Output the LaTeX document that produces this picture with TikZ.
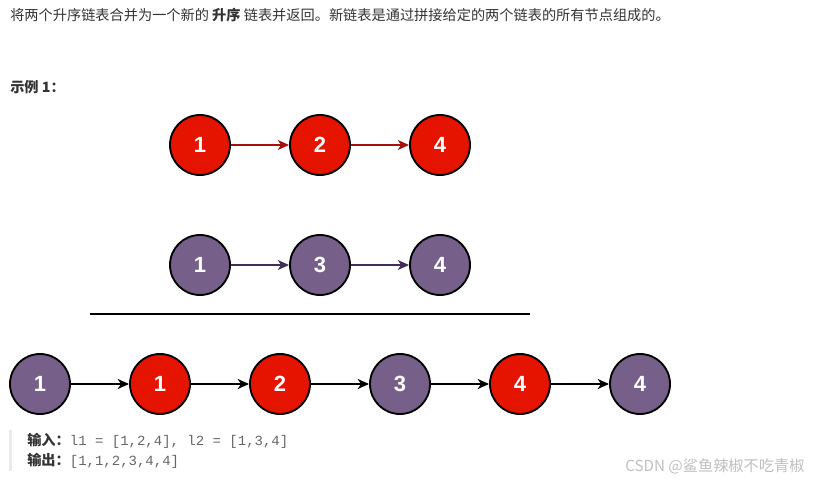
\documentclass[tikz,border=0pt]{standalone}
\usepackage{fontspec}
\setmainfont{Liberation Sans}
\setmonofont{Liberation Mono}
\newfontfamily\cjk{Noto Sans CJK SC}
\usepackage{xcolor}
\usetikzlibrary{arrows.meta}
\definecolor{nodered}{HTML}{E51400}
\definecolor{nodepurple}{HTML}{76608A}
\definecolor{arrowred}{HTML}{A50F0C}
\definecolor{arrowpurple}{HTML}{432D57}
\definecolor{txtdark}{HTML}{333333}
\definecolor{codegray}{HTML}{666666}

\begin{document}
\begin{tikzpicture}[x=0.75pt,y=-0.75pt,
    listnode/.style={circle,draw=black,line width=1.4pt,minimum size=45pt,inner sep=0pt,
      text=white,font=\fontsize{16.5}{16.5}\selectfont\bfseries},
    rednode/.style={listnode,fill=nodered},
    purplenode/.style={listnode,fill=nodepurple},
    link/.style={line width=1.2pt,-{Stealth[length=8.5pt,width=7.5pt,inset=2.5pt]}},
    plain/.style={anchor=west,inner sep=0pt,text=txtdark,font=\cjk\fontsize{10.65}{12}\selectfont}]
    \useasboundingbox (0,0) rectangle (816,481);
    % heading text
    \node[plain] (title) at (10,15) {将两个升序链表合并为一个新的 \textbf{升序} 链表并返回。新链表是通过拼接给定的两个链表的所有节点组成的。};
    \node[plain] (example) at (10,87) {\textbf{示例 1：}};
    % l1
    \node[rednode] (a1) at (200,145) {1};
    \node[rednode] (a2) at (320,145) {2};
    \node[rednode] (a3) at (440,145) {4};
    \draw[link,arrowred] (a1) -- (a2);
    \draw[link,arrowred] (a2) -- (a3);
    % l2
    \node[purplenode] (b1) at (200,265) {1};
    \node[purplenode] (b2) at (320,265) {3};
    \node[purplenode] (b3) at (440,265) {4};
    \draw[link,arrowpurple] (b1) -- (b2);
    \draw[link,arrowpurple] (b2) -- (b3);
    % separator
    \coordinate (sepL) at (90,314);
    \coordinate (sepR) at (530,314);
    \draw[line width=1.4pt] (sepL) -- (sepR);
    % merged list
    \node[purplenode] (c1) at (40,384) {1};
    \node[rednode] (c2) at (160,384) {1};
    \node[rednode] (c3) at (280,384) {2};
    \node[purplenode] (c4) at (400,384) {3};
    \node[rednode] (c5) at (520,384) {4};
    \node[purplenode] (c6) at (640,384) {4};
    \draw[link,line width=1.5pt] (c1) -- (c2);
    \draw[link,line width=1.5pt] (c2) -- (c3);
    \draw[link,line width=1.5pt] (c3) -- (c4);
    \draw[link,line width=1.5pt] (c4) -- (c5);
    \draw[link,line width=1.5pt] (c5) -- (c6);
    % input / output block
    \fill[black!8] (9,430) rectangle (12,471);
    \node[plain] (input) at (27,441) {\textbf{输入：}{\ttfamily\fontsize{10.5}{12}\selectfont\color{codegray}l1 = [1,2,4], l2 = [1,3,4]}};
    \node[plain] (output) at (27,461) {\textbf{输出：}{\ttfamily\fontsize{10.5}{12}\selectfont\color{codegray}[1,1,2,3,4,4]}};
    \node[plain,text=black!25,font=\cjk\fontsize{11.4}{12}\selectfont] (mark) at (625,466) {CSDN @鲨鱼辣椒不吃青椒};
\end{tikzpicture}
\end{document}
